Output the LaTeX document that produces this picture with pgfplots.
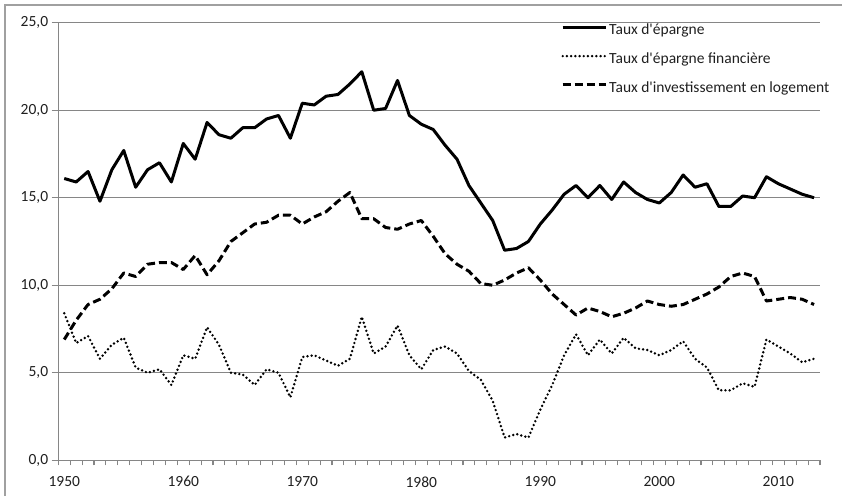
\documentclass[border=0pt]{standalone}
\usepackage{pgfplots}
\usepackage{pgfplotstable}
\pgfplotsset{compat=1.18}
\usepackage{fontspec}
\setmainfont{Carlito}[Ligatures=TeXOff]
\definecolor{gridgray}{RGB}{134,134,134}
\definecolor{framegray}{RGB}{160,160,160}
\pgfplotstableread{
year S F L
1950 16.1 8.4 6.9
1951 15.9 6.7 8.0
1952 16.5 7.1 8.9
1953 14.8 5.8 9.2
1954 16.6 6.6 9.8
1955 17.7 7.0 10.7
1956 15.6 5.3 10.5
1957 16.6 5.0 11.2
1958 17.0 5.2 11.3
1959 15.9 4.3 11.3
1960 18.1 6.0 10.9
1961 17.2 5.8 11.7
1962 19.3 7.6 10.6
1963 18.6 6.6 11.4
1964 18.4 5.0 12.5
1965 19.0 4.9 13.0
1966 19.0 4.3 13.5
1967 19.5 5.2 13.6
1968 19.7 5.0 14.0
1969 18.4 3.6 14.0
1970 20.4 5.9 13.5
1971 20.3 6.0 13.9
1972 20.8 5.7 14.2
1973 20.9 5.4 14.8
1974 21.5 5.8 15.3
1975 22.2 8.2 13.8
1976 20.0 6.1 13.8
1977 20.1 6.5 13.3
1978 21.7 7.7 13.2
1979 19.7 6.0 13.5
1980 19.2 5.2 13.7
1981 18.9 6.3 12.8
1982 18.0 6.5 11.8
1983 17.2 6.1 11.2
1984 15.7 5.1 10.8
1985 14.7 4.6 10.1
1986 13.7 3.4 10.0
1987 12.0 1.3 10.3
1988 12.1 1.5 10.7
1989 12.5 1.3 11.0
1990 13.5 2.9 10.3
1991 14.3 4.3 9.5
1992 15.2 6.0 8.9
1993 15.7 7.2 8.3
1994 15.0 6.0 8.7
1995 15.7 6.9 8.5
1996 14.9 6.1 8.2
1997 15.9 7.0 8.4
1998 15.3 6.4 8.7
1999 14.9 6.3 9.1
2000 14.7 6.0 8.9
2001 15.3 6.3 8.8
2002 16.3 6.8 8.9
2003 15.6 5.8 9.2
2004 15.8 5.3 9.5
2005 14.5 4.0 9.9
2006 14.5 4.0 10.5
2007 15.1 4.4 10.7
2008 15.0 4.2 10.5
2009 16.2 6.9 9.1
2010 15.8 6.5 9.2
2011 15.5 6.1 9.3
2012 15.2 5.6 9.2
2013 15.0 5.8 8.9
}\datatable
\begin{document}
\begin{tikzpicture}[x=1pt,y=1pt]
\useasboundingbox (0,0) rectangle (842,496);
\draw[framegray, line width=1.3pt] (5,0) -- (5,491) -- (842,491);
\begin{axis}[
  at={(58.3pt,35.7pt)}, anchor=south west,
  scale only axis, width=761.7pt, height=437.6pt,
  xmin=1949.5, xmax=2013.5, ymin=0, ymax=25,
  axis lines*=left,
  axis line style={gridgray, line width=1.2pt},
  ytick={0,5,...,25},
  ymajorgrids, major grid style={gridgray, line width=1.3pt},
  xtick={1950,1960,...,2010},
  xticklabels={1950,1960,1970,1980,1990,2000,2010},
  minor xtick={1949.5,1950.5,...,2013.5},
  tick align=outside,
  major tick length=6.6pt,
  minor tick length=5pt,
  x tick style={draw=none},
  minor x tick style={draw=gridgray, line width=1.1pt},
  y tick style={gridgray, line width=1.2pt},
  tick label style={font=\fontsize{15.5}{18}\selectfont, text=black!88},
  xticklabel style={yshift=-6pt},
  yticklabel style={/pgf/number format/.cd, fixed, fixed zerofill, precision=1, use comma},
  /pgf/number format/assume math mode=true,
  clip=false,
  legend cell align=left,
  legend style={draw=none, fill=none, at={(0.66,0.998)}, anchor=north west,
    font=\fontsize{15.5}{18}\selectfont, text=black!88,
    row sep=14.2pt, inner sep=0pt, column sep=0pt,
    nodes={inner sep=0pt, text height=11pt, text depth=3.5pt}},
  legend image code/.code={\draw[#1] (0pt,3.6pt) -- (43pt,3.6pt);},
  every axis plot/.append style={line join=round},
]
\addplot[black, line width=3pt] table[x=year, y=S] {\datatable};
\addlegendentry{\hspace{2pt}Taux d'épargne}
\addplot[black, line width=2.7pt, line cap=round, dash pattern=on 0pt off 4.2pt] table[x=year, y=F] {\datatable};
\addlegendentry{\hspace{2pt}Taux d'épargne financière}
\addplot[black, line width=3pt, dash pattern=on 8pt off 4pt] table[x=year, y=L] {\datatable};
\addlegendentry{\hspace{2pt}Taux d'investissement en logement}
\end{axis}
\end{tikzpicture}
\end{document}
